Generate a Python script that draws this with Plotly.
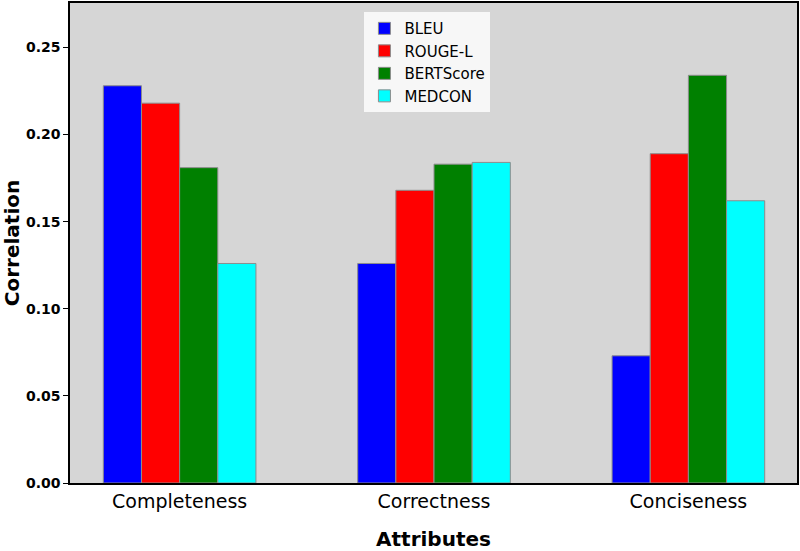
import plotly.graph_objects as go

# Correlation of automatic metrics with human-judged attributes
attributes = ["Completeness", "Correctness", "Conciseness"]
metrics = ["BLEU", "ROUGE-L", "BERTScore", "MEDCON"]

bleu = [0.228, 0.126, 0.073]
rouge_l = [0.218, 0.168, 0.189]
bertscore = [0.181, 0.183, 0.234]
medcon = [0.126, 0.184, 0.162]

colors = ["blue", "red", "green", "cyan"]

fig = go.Figure()

for name, vals, col in zip(metrics, [bleu, rouge_l, bertscore, medcon], colors):
    fig.add_trace(go.Bar(
        x=attributes, y=vals, name=name,
        marker=dict(color=col, line=dict(color="#8c8c8c", width=1)),
    ))

fig.update_layout(
    width=800, height=551,
    barmode="group", bargap=0.4, bargroupgap=0,
    plot_bgcolor="#d6d6d6", paper_bgcolor="white",
    margin=dict(l=70, r=1, t=1, b=68),
    font=dict(family="DejaVu Sans", color="black"),
    legend=dict(
        x=0.405, y=0.981, xanchor="left", yanchor="top",
        bgcolor="rgba(255,255,255,0.8)", borderwidth=0,
        font=dict(size=15), tracegroupgap=0,
    ),
    xaxis=dict(
        range=[-0.431, 2.427],
        showline=True, linecolor="black", linewidth=1.5, mirror=True,
        ticks="", tickfont=dict(size=19),
        title=dict(text="Attributes", font=dict(size=20, weight="bold"), standoff=24),
        showgrid=False,
    ),
    yaxis=dict(
        range=[0, 0.2755],
        tickvals=[0, 0.05, 0.10, 0.15, 0.20, 0.25],
        tickformat=".2f",
        showline=True, linecolor="black", linewidth=1.5, mirror=True,
        ticks="outside", ticklen=5, tickwidth=1.2, tickcolor="black",
        tickfont=dict(size=14, weight="bold"),
        title=dict(text="Correlation", font=dict(size=20, weight="bold"), standoff=6),
        showgrid=False, zeroline=False,
    ),
)

# drop the default page margin so the figure sits at the window corner
fig.write_html("out.html", config={"displayModeBar": False},
               post_script="document.body.style.margin='0';")
